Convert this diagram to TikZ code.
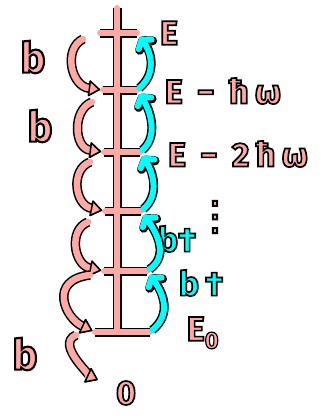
\documentclass[tikz,border=0pt]{standalone}
\usepackage{fontspec}
\usetikzlibrary{arrows.meta}
\newfontfamily\mano[LetterSpace=18, FakeBold=5]{Fira Sans}
\newfontfamily\manoJunta[FakeBold=5]{Fira Sans}
\newfontfamily\simbolo[FakeBold=5]{DejaVu Sans}
\definecolor{rosaNivel}{HTML}{FFA9A6}
\definecolor{cianSube}{HTML}{00FFFF}
% relleno de color y trazo negro alrededor de las letras
\newcommand{\rosa}[1]{\special{pdf:bcolor [1 0.663 0.651] [0 0 0]}#1\special{pdf:ecolor}}
\newcommand{\cian}[1]{\special{pdf:bcolor [0 1 1] [0 0 0]}#1\special{pdf:ecolor}}

\begin{document}
\begin{tikzpicture}[x=1pt, y=-1pt,
        escalera/.style={draw=rosaNivel, line width=6pt, line cap=round,
            preaction={draw=black, line width=9pt}},
        baja/.style={draw=rosaNivel, line width=6.5pt, line cap=round,
            preaction={draw=black, line width=9.5pt},
            -{Triangle[length=12pt, width=17pt, round, color=black, fill=rosaNivel, line width=1.5pt]},
            shorten >=3pt},
        sube/.style={draw=cianSube, line width=6pt, line cap=round,
            preaction={draw=black, line width=9pt},
            -{Straight Barb[length=6pt, width=16pt, round]},
            shorten >=5pt, shorten <=3pt},
        rotulo/.style={font=\mano\bfseries\fontsize{34}{36}\selectfont, inner sep=0pt},
        letraB/.style={font=\mano\bfseries\fontsize{42}{44}\selectfont, inner sep=0pt}
    ]
        \useasboundingbox (0,0) rectangle (331,416);

        % niveles de energia
        \coordinate (tope) at (117,8);
        \coordinate (fondo) at (117,332);
        \foreach \nom/\xa/\xb/\y in {a/100/137/33, b/103/137/90, c/104/140/152,
                d/105/141/211, e/104/147/271, f/95/150/332}
            {\coordinate (\nom w) at (\xa,\y); \coordinate (\nom e) at (\xb,\y);}
        \draw[escalera] (tope) -- (fondo) (aw) -- (ae) (bw) -- (be) (cw) -- (ce)
            (dw) -- (de) (ew) -- (ee) (fw) -- (fe);

        \node[rotulo] (nE) at (169,33) {\rosa{E}};
        \node[rotulo] (nE1) at (223,91) {\rosa{E − ħω}};
        \node[rotulo] (nE2) at (238,154) {\rosa{E − 2ħω}};
        \node[rotulo, font=\simbolo\fontsize{40}{42}\selectfont] (puntos) at (215,217) {\rosa{⋮}};
        \node[rotulo] (nE0) at (203,333) {\rosa{E\textsubscript{0}}};
        \node[rotulo] (cero) at (126,393) {\rosa{0}};
        \node[letraB] (b1) at (33,57) {\rosa{b}};
        \node[letraB] (b2) at (40,126) {\rosa{b}};
        \node[letraB] (b3) at (25,354) {\rosa{b}};
        \node[rotulo, font=\manoJunta\bfseries\fontsize{34}{36}\selectfont]
            (bd1) at (177,239) {\cian{b†}};
        \node[rotulo] (bd2) at (201,283) {\cian{b†}};

        % b baja un nivel
        \coordinate (s1) at (83,39);
        \coordinate (s2) at (92,102);
        \coordinate (s3) at (90,162);
        \coordinate (s4) at (88,222);
        \coordinate (s5) at (90,275);
        \coordinate (s6) at (76,335);
        \draw[baja] (s1) .. controls +(-20,10) and +(-32,-4) .. (bw);
        \draw[baja] (s2) .. controls +(-20,8) and +(-30,-4) .. (cw);
        \draw[baja] (s3) .. controls +(-20,8) and +(-30,-6) .. (dw);
        \draw[baja] (s4) .. controls +(-20,8) and +(-30,-6) .. (ew);
        \draw[baja] (s5) .. controls +(-42,5) and +(-30,-14) .. (fw);
        \draw[baja, shorten >=20pt] (s6) .. controls +(-22,10) and +(-30,-14) .. (cero);

        % b† sube un nivel
        \draw[sube] (be) .. controls +(18,-15) and +(16,22) .. (ae);
        \draw[sube] (ce) .. controls +(18,-15) and +(14,22) .. (be);
        \draw[sube] (de) .. controls +(18,-15) and +(14,22) .. (ce);
        \draw[sube] (ee) .. controls +(22,-15) and +(16,22) .. (de);
        \draw[sube] (fe) .. controls +(22,-18) and +(16,22) .. (ee);
\end{tikzpicture}
\end{document}
